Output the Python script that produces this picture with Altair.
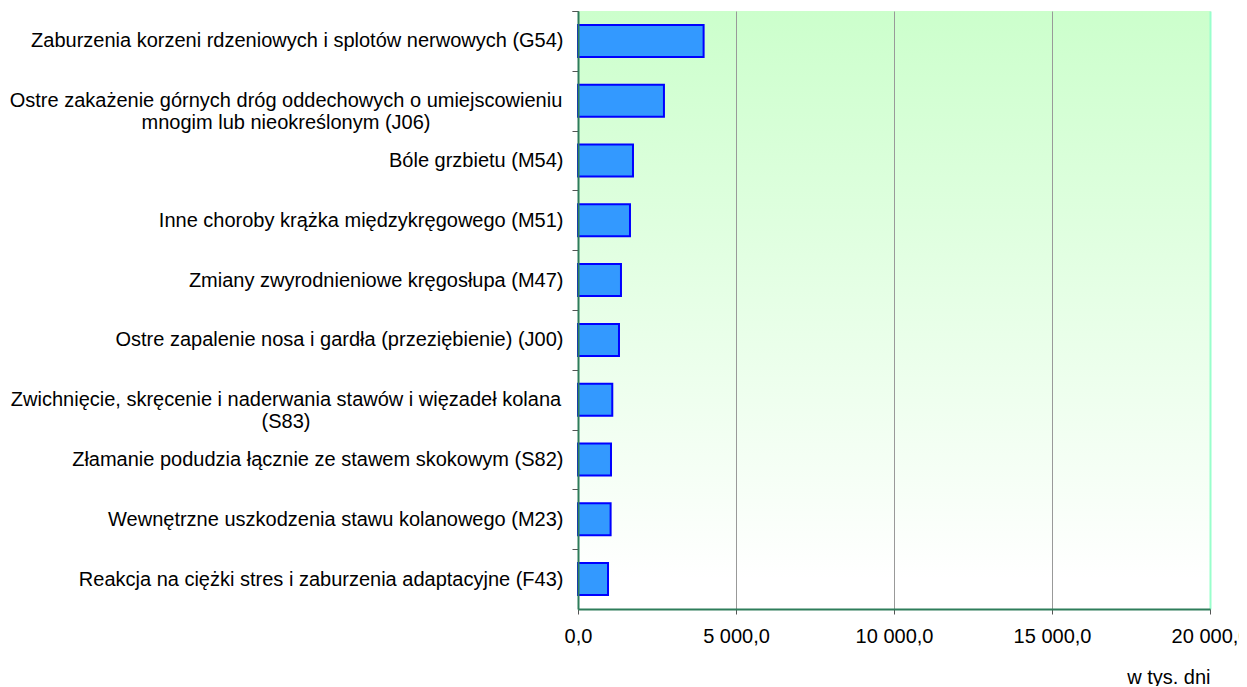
import altair as alt
import pandas as pd

# ---- data ----
line1 = [
    "Zaburzenia korzeni rdzeniowych i splotów nerwowych (G54)",
    "Ostre zakażenie górnych dróg oddechowych o umiejscowieniu",
    "Bóle grzbietu (M54)",
    "Inne choroby krążka międzykręgowego (M51)",
    "Zmiany zwyrodnieniowe kręgosłupa (M47)",
    "Ostre zapalenie nosa i gardła (przeziębienie) (J00)",
    "Zwichnięcie, skręcenie i naderwania stawów i więzadeł kolana",
    "Złamanie podudzia łącznie ze stawem skokowym (S82)",
    "Wewnętrzne uszkodzenia stawu kolanowego (M23)",
    "Reakcja na ciężki stres i zaburzenia adaptacyjne (F43)",
]
line2 = [
    "",
    "mnogim lub nieokreślonym (J06)",
    "",
    "",
    "",
    "",
    "(S83)",
    "",
    "",
    "",
]
values = [3975, 2720, 1740, 1645, 1360, 1297, 1085, 1044, 1032, 950]
x_ticks = [0, 5000, 10000, 15000, 20000]

labels = [a if not b else a + "|" + b for a, b in zip(line1, line2)]
multi_flag = [bool(b) for b in line2]
df = pd.DataFrame({"label": labels, "value": values, "multi": multi_flag})

W, H = 632, 598
FONT = "Liberation Sans"
FS = 20
P_IN = 0.465
STEP = H / len(values)
HALF_GAP = P_IN * STEP / 2  # distance from a bar edge to the band boundary

y_scale = alt.Scale(paddingInner=P_IN, paddingOuter=P_IN / 2)
y_axis = alt.Axis(
    title=None,
    labelExpr="indexof(datum.label, '|') >= 0 ? '' : datum.label",
    labelFontSize=FS, labelPadding=9,
    labelFont=FONT, labelColor="#000000", labelLimit=0,
    tickSize=6, bandPosition=0, tickExtra=True, tickOffset=-HALF_GAP,
    labelOffset=HALF_GAP,
    tickColor="#555555",
    domainColor="#2E7D5A", domainWidth=2,
    zindex=1,
)

bg = alt.Chart(pd.DataFrame({"k": [0]})).mark_rect(
    fill=alt.Gradient(
        gradient="linear", x1=0, y1=0, x2=0, y2=1,
        stops=[alt.GradientStop(offset=0, color="#CCFFCC"),
               alt.GradientStop(offset=0.95, color="#FFFFFF"),
               alt.GradientStop(offset=1, color="#FFFFFF")],
    )
).encode(x=alt.value(0), x2=alt.value(W), y=alt.value(0), y2=alt.value(H))

bars = alt.Chart(df).mark_bar(
    fill="#3399FF", stroke="#0000FF", strokeWidth=2
).encode(
    x=alt.X(
        "value:Q",
        scale=alt.Scale(domain=[0, 20000], nice=False),
        axis=alt.Axis(
            values=x_ticks,
            labelExpr="replace(replace(format(datum.value, ',.1f'), ',', ' '), '.', ',')",
            labelFlush=False,
            grid=True,
            gridColor=alt.condition("datum.value == 20000", alt.value("#99FFCC"), alt.value("#999999")),
            gridWidth=alt.condition("datum.value == 20000", alt.value(2), alt.value(1)),
            domainColor="#2E7D5A", domainWidth=2,
            tickColor="#555555", tickSize=5,
            labelFontSize=FS, labelPadding=12, labelColor="#000000",
            labelFont=FONT,
            title="w tys. dni", titleAnchor="end", titleFontWeight="normal",
            titleFontSize=FS, titleFont=FONT, titlePadding=21, titleColor="#000000",
            zindex=1,
        ),
    ),
    y=alt.Y("label:N", sort=None, scale=y_scale, axis=y_axis),
)

# two-line category labels, centred line by line as in the reference
wrapped = alt.Chart(df).transform_filter("datum.multi").mark_text(
    align="center", baseline="middle", lineBreak="|", lineHeight=22,
    font=FONT, fontSize=FS, color="#000000",
).encode(
    y=alt.Y("label:N", sort=None, scale=y_scale, axis=y_axis),
    x=alt.value(-292),
    text="label:N",
)

chart = alt.layer(bg, bars, wrapped).properties(
    width=W, height=H,
    autosize=alt.AutoSizeParams(type="none"),
    padding={"left": 570, "top": 3, "right": 29, "bottom": 77},
).configure_view(
    stroke="#99FFCC", strokeWidth=2
).configure(font=FONT)

chart.save("out.html", embed_options={"renderer": "svg", "actions": False})
